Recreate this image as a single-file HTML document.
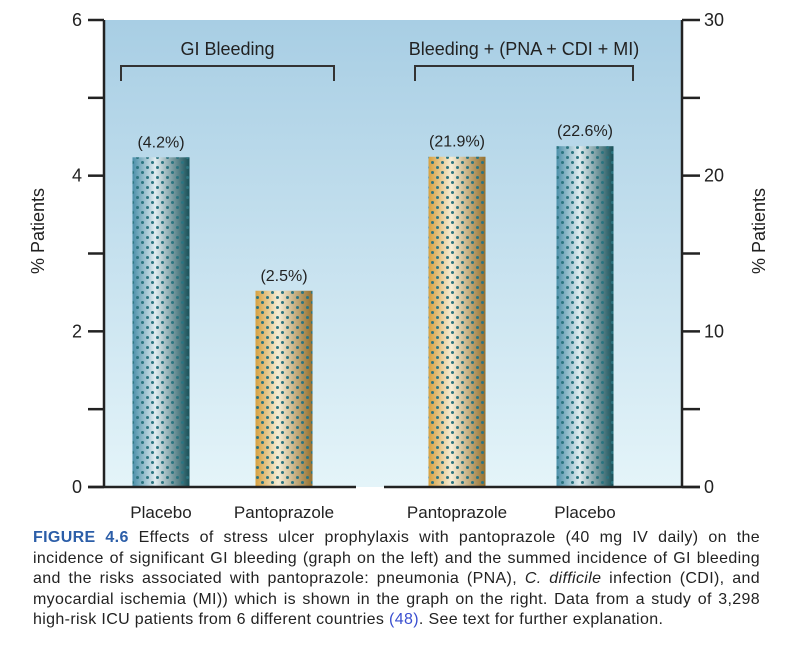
<!DOCTYPE html>
<html><head><meta charset="utf-8"><style>
body{margin:0;background:#fff;width:800px;height:645px;overflow:hidden;font-family:"Liberation Sans",sans-serif}
#cap{position:absolute;left:33px;top:528px;width:727px;font-size:16px;letter-spacing:0.35px;line-height:20.5px;color:#222}
#cap div{text-align:justify;text-align-last:justify;white-space:nowrap}
#cap div.last{text-align-last:left}
#cap b{color:#2c5ea8}
</style></head><body>
<svg id="chart" width="800" height="530" style="position:absolute;left:0;top:0" font-family="Liberation Sans, sans-serif">
<defs>
<linearGradient id="bg" x1="0" y1="0" x2="0" y2="1"><stop offset="0" stop-color="#a8cee4"/><stop offset="1" stop-color="#e4f4f9"/></linearGradient>
<linearGradient id="blue" x1="0" x2="1"><stop offset="0" stop-color="#4a8fa9"/><stop offset="0.4" stop-color="#e0ecf0"/><stop offset="1" stop-color="#174f57"/></linearGradient>
<linearGradient id="gold" x1="0" x2="1"><stop offset="0" stop-color="#d6a040"/><stop offset="0.4" stop-color="#f5edd6"/><stop offset="1" stop-color="#94702f"/></linearGradient>
<pattern id="dots" width="10" height="10" patternUnits="userSpaceOnUse"><circle cx="2.5" cy="2.5" r="1.5" fill="#2a7480"/><circle cx="7.5" cy="7.5" r="1.5" fill="#2a7480"/></pattern>
</defs>
<rect x="104" y="20" width="578" height="467" fill="url(#bg)"/>
<g id="marks"></g>
</svg>
<div id="cap">
<div><b>FIGURE 4.6</b> Effects of stress ulcer prophylaxis with pantoprazole (40 mg IV daily) on the</div>
<div>incidence of significant GI bleeding (graph on the left) and the summed incidence of GI bleeding</div>
<div>and the risks associated with pantoprazole: pneumonia (PNA), <i>C. difficile</i> infection (CDI), and</div>
<div>myocardial ischemia (MI)) which is shown in the graph on the right. Data from a study of 3,298</div>
<div class="last">high-risk ICU patients from 6 different countries <span style="color:#3a4fd0">(48)</span>. See text for further explanation.</div>
</div>
<script>
const categories=["Placebo","Pantoprazole","Pantoprazole","Placebo"];
const values=[4.2,2.5,21.9,22.6];
const labels=["(4.2%)","(2.5%)","(21.9%)","(22.6%)"];
const axisSide=["left","left","right","right"];
const leftTicks=[0,2,4,6];
const rightTicks=[0,10,20,30];
const NS="http://www.w3.org/2000/svg";
const g=document.getElementById('marks');
const y0=487,yTop=20;
function yL(v){return y0-(v/6)*(y0-yTop);}
function yR(v){return y0-(v/30)*(y0-yTop);}
function yRbar(v){return y0-v*15.08;}
function yLbar(v){return y0-v*78.5;}
const centers=[161,284,457,585];
function mk(t,a,txt){const e=document.createElementNS(NS,t);for(const k in a)e.setAttribute(k,a[k]);if(txt!==undefined)e.textContent=txt;g.appendChild(e);return e;}
values.forEach((v,i)=>{
 const y=axisSide[i]=="left"?yLbar(v):yRbar(v);
 const fill=categories[i]=="Placebo"?"url(#blue)":"url(#gold)";
 const b=mk('rect',{x:centers[i]-28.5,y:y,width:57,height:y0-y,fill:fill});
 
 
 const d=mk('rect',{x:centers[i]-28.5,y:y,width:57,height:y0-y,fill:"url(#dots)"});
 
 
 const l=mk('text',{x:centers[i],y:y-10,'text-anchor':'middle','font-size':16,fill:'#222'},labels[i]);
 
 
 const c=mk('text',{x:centers[i],y:518,'text-anchor':'middle','font-size':17,fill:'#222'},categories[i]);
 
 
});
const la=mk('line',{x1:104,y1:yTop,x2:104,y2:y0,stroke:'#222','stroke-width':2.5});


const ra=mk('line',{x1:682,y1:yTop,x2:682,y2:y0,stroke:'#222','stroke-width':2.5});


const b1=mk('line',{x1:88,y1:y0,x2:356,y2:y0,stroke:'#222','stroke-width':2.5});


const b2=mk('line',{x1:384,y1:y0,x2:700,y2:y0,stroke:'#222','stroke-width':2.5});


for(let v=0;v<=6;v++){const t=mk('line',{x1:88,x2:104,y1:yL(v),y2:yL(v),stroke:'#222','stroke-width':2.5});
 
 }
for(let v=0;v<=30;v+=5){const t=mk('line',{x1:682,x2:700,y1:yR(v),y2:yR(v),stroke:'#222','stroke-width':2.5});
 
 }
leftTicks.forEach(v=>{const t=mk('text',{x:82,y:yL(v)+6,'text-anchor':'end','font-size':18,fill:'#222'},v);
 
 });
rightTicks.forEach(v=>{const t=mk('text',{x:704,y:yR(v)+6,'text-anchor':'start','font-size':18,fill:'#222'},v);
 
 });
const yt1=mk('text',{x:0,y:0,transform:'translate(44,231) rotate(-90)','text-anchor':'middle','font-size':18,fill:'#222'},'% Patients');


const yt2=mk('text',{x:0,y:0,transform:'translate(765,231) rotate(-90)','text-anchor':'middle','font-size':18,fill:'#222'},'% Patients');


[[121,334,'GI Bleeding'],[415,633,'Bleeding + (PNA + CDI + MI)']].forEach((a,i)=>{
 const p=mk('path',{d:`M${a[0]},81 V66 H${a[1]} V81`,fill:'none',stroke:'#333','stroke-width':2});
 
 
 const t=mk('text',{x:(a[0]+a[1])/2,y:55,'text-anchor':'middle','font-size':18,fill:'#222'},a[2]);
 
 
});
</script>
</body></html>
